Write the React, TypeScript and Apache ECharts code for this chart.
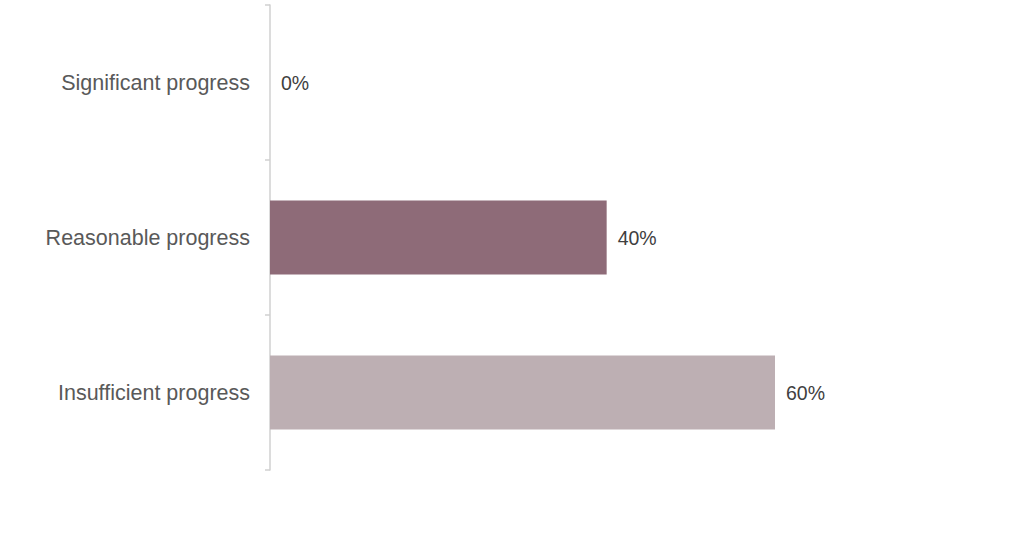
import React, { useEffect, useRef } from "react";
import * as echarts from "echarts";

const categories = ["Significant progress", "Reasonable progress", "Insufficient progress"];
const values = [0, 40, 60];
const barColors = ["#8E6B78", "#8E6B78", "#BDAFB3"];

export default function App() {
  const ref = useRef<HTMLDivElement>(null);
  useEffect(() => {
    document.body.style.margin = "0";
    const chart = echarts.init(ref.current!, undefined, { renderer: "svg" });
    chart.setOption({
      animation: false,
      backgroundColor: "#ffffff",
      grid: { left: 270, top: 5, bottom: 74, width: 505, containLabel: false },
      xAxis: {
        type: "value",
        min: 0,
        max: 60,
        show: false,
      },
      yAxis: {
        type: "category",
        data: categories,
        inverse: true,
        offset: 3,
        axisLine: { show: true, lineStyle: { color: "#D0D0D0", width: 1.5 } },
        axisTick: { show: true, length: 5, lineStyle: { color: "#D0D0D0", width: 1.5 } },
        axisLabel: {
          margin: 17,
          color: "#595959",
          fontSize: 21.5,
          fontFamily: "Liberation Sans, Arial, sans-serif",
        },
      },
      series: [
        {
          type: "bar",
          data: values.map((v, i) => ({ value: v, itemStyle: { color: barColors[i] } })),
          barWidth: 74,
          label: {
            show: true,
            position: "right",
            distance: 11,
            formatter: (p: any) => `${p.value}%`,
            color: "#404040",
            fontSize: 19.5,
            fontFamily: "Liberation Sans, Arial, sans-serif",
          },
        },
      ],
    });
    return () => chart.dispose();
  }, []);
  return (
    <div
      ref={ref}
      style={{ position: "absolute", left: 0, top: 0, width: 1018, height: 544 }}
    />
  );
}
